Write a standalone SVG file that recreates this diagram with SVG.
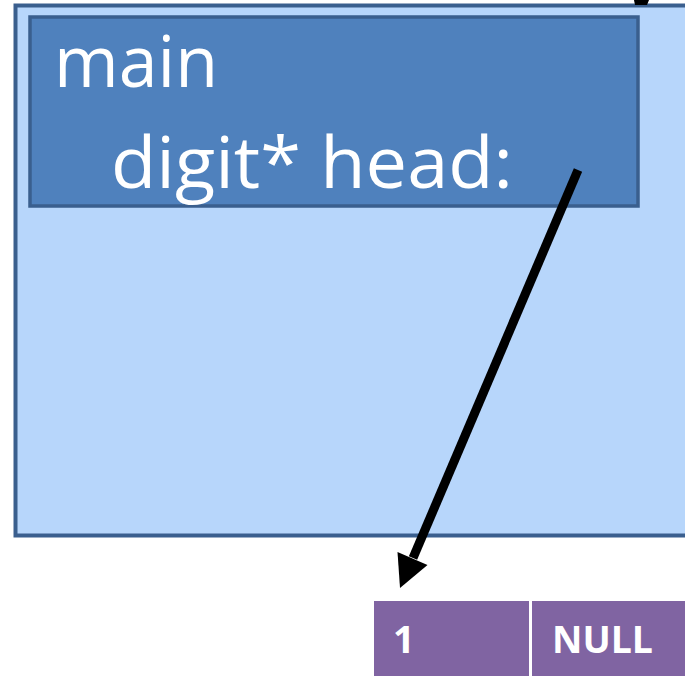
<svg xmlns="http://www.w3.org/2000/svg" width="685" height="676" viewBox="0 0 685 676">
<style>
.frame{fill:#B7D6FB;stroke:#3A5F8E;stroke-width:4}
.var{fill:#4F81BD;stroke:#3A5F8E;stroke-width:3.5}
.cell{fill:#8064A2}
.lbl{font-family:"Open Sans",sans-serif;fill:#FFFFFF;font-size:71px}
.cl{font-family:"Open Sans",sans-serif;font-weight:bold;fill:#FFFFFF;font-size:38px}
.conn{stroke:#000;stroke-width:9;fill:none}
.head{fill:#000}
</style>
<g id="frame-main">
<rect class="frame" x="15.5" y="5.5" width="690" height="530"/>
</g>
<g id="var-main">
<rect class="var" x="30" y="17" width="608" height="189"/>
<text class="lbl" x="54" y="87" textLength="164" lengthAdjust="spacingAndGlyphs">main</text>
<text class="lbl" x="111" y="188" textLength="402" lengthAdjust="spacingAndGlyphs">digit* head:</text>
</g>
<g id="node-1">
<rect class="cell" x="374" y="601" width="155" height="75"/>
<text class="cl" x="393" y="653">1</text>
</g>
<g id="node-null">
<rect class="cell" x="532" y="601" width="160" height="75"/>
<text class="cl" x="552" y="653" textLength="101" lengthAdjust="spacingAndGlyphs">NULL</text>
</g>
<g id="connectors">
<line class="conn" x1="578" y1="170" x2="413" y2="558"/>
<polygon class="head" points="400,588 397.5,552 427.5,565"/>
<polygon class="head" points="634,0 649,0 647,5 635,5"/>
</g>
</svg>
